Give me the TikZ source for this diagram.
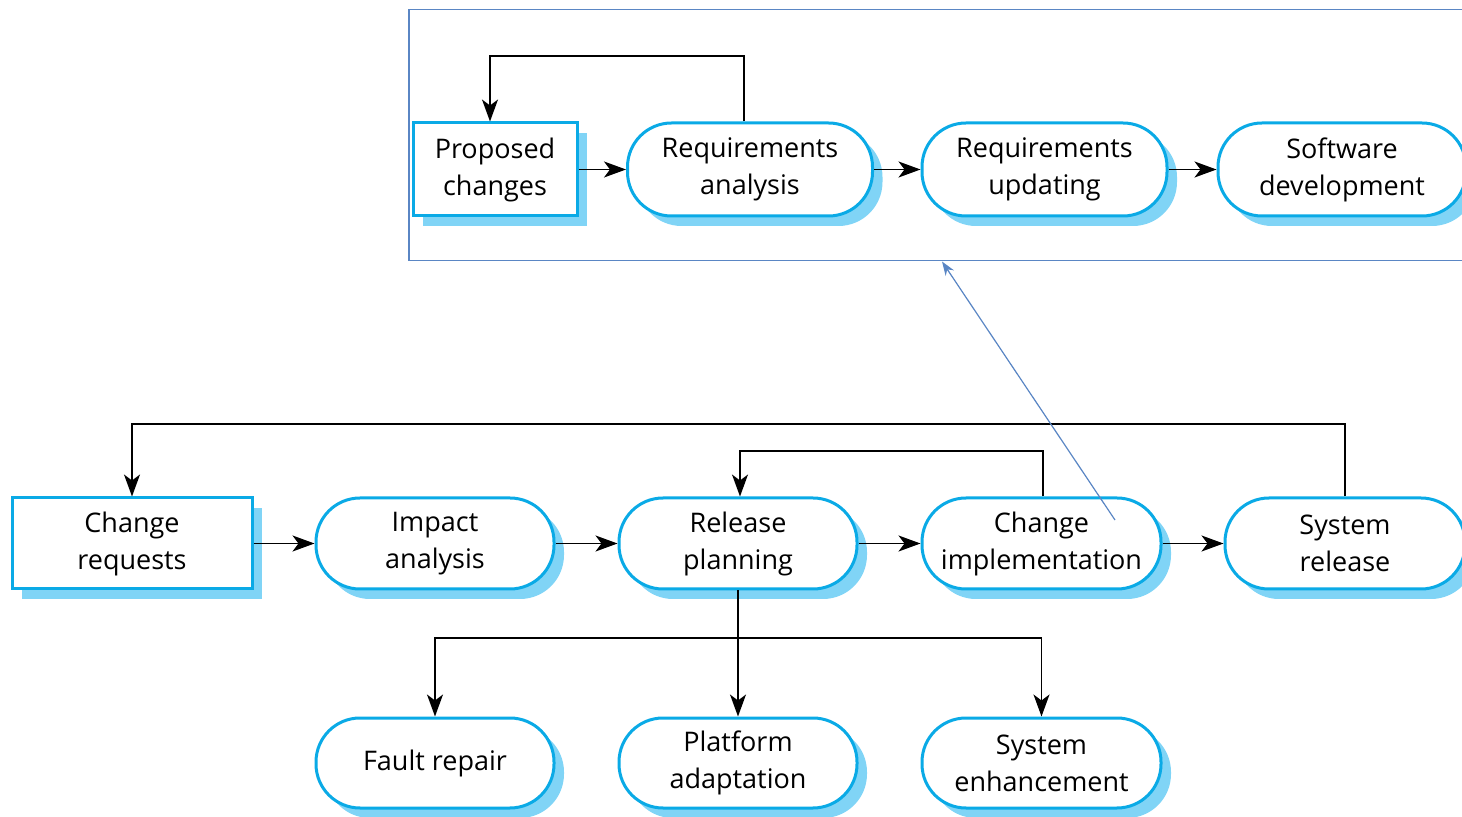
\documentclass[tikz,border=0pt]{standalone}
\usepackage{fontspec}
\setmainfont{Open Sans}
\usetikzlibrary{arrows.meta,shadows,calc}
\definecolor{bord}{HTML}{0AAAE6}
\definecolor{shad}{HTML}{80D4F6}
\definecolor{frame}{HTML}{5A86C4}
\begin{document}
\begin{tikzpicture}[x=0.5pt,y=-0.5pt,
  base/.style={draw=bord, line width=1.5pt, fill=white, align=center, inner sep=0pt,
    font=\fontsize{13.5}{18.5}\selectfont,
    drop shadow={shadow xshift=5pt, shadow yshift=-5pt, fill=shad, opacity=1}},
  rectbox/.style={base, rectangle},
  roundbox/.style={base, rounded corners=22pt},
  arr/.style={line width=0.75pt, -{Stealth[length=11pt,width=8pt,inset=3pt]}},
  plain/.style={line width=0.75pt},
  bluearr/.style={draw=frame, fill=frame, line width=0.6pt, -{Stealth[length=7pt,width=5pt]}}
]
\useasboundingbox (0,0) rectangle (1462,817);
\clip (0,0) rectangle (1462,817);

% outer frame
\node[draw=frame, line width=0.75pt, minimum width=560pt, minimum height=125.5pt, anchor=north west, inner sep=0pt] (ob) at (408,9) {};

% top row
\node[rectbox, minimum width=82pt, minimum height=46.5pt] (pc) at (495,169.5) {Proposed\\changes};
\node[roundbox, minimum width=122.5pt, minimum height=46.5pt] (ra) at (750,169.5) {Requirements\\analysis};
\node[roundbox, minimum width=122.5pt, minimum height=46.5pt] (ru) at (1044.5,169.5) {Requirements\\updating};
\node[roundbox, minimum width=124pt, minimum height=46.5pt] (sd) at (1342,169.5) {Software\\development};

% middle row
\node[rectbox, minimum width=120pt, minimum height=45.5pt] (cr) at (132,543.5) {Change\\requests};
\node[roundbox, minimum width=119pt, minimum height=45.5pt] (ia) at (435,543.5) {Impact\\analysis};
\node[roundbox, minimum width=119pt, minimum height=45.5pt] (rp) at (738,543.5) {Release\\planning};
\node[roundbox, minimum width=119.5pt, minimum height=45.5pt] (ci) at (1041.5,543.5) {Change\\implementation};
\node[roundbox, minimum width=120pt, minimum height=45.5pt] (sr) at (1345,543.5) {System\\release};

% bottom row
\node[roundbox, minimum width=119pt, minimum height=45pt] (fr) at (435,763) {Fault repair};
\node[roundbox, minimum width=119pt, minimum height=45pt] (pa) at (738,763) {Platform\\adaptation};
\node[roundbox, minimum width=119.5pt, minimum height=45pt] (se) at (1041.5,763) {System\\enhancement};

% top connectors
\draw[arr] (pc.east) -- (ra.west);
\draw[arr] (ra.east) -- (ru.west);
\draw[arr] (ru.east) -- (sd.west);
\coordinate (t1) at (744,56);
\draw[arr] (t1 |- ra.north) -- (t1) -| (pc.north -| 490,0);

% middle connectors
\draw[arr] (cr.east) -- (ia.west);
\draw[arr] (ia.east) -- (rp.west);
\draw[arr] (rp.east) -- (ci.west);
\draw[arr] (ci.east) -- (sr.west);
\coordinate (b1) at (1345,424);
\draw[arr] (sr.north) |- (b1) -| (cr.north);
\coordinate (b2) at (1043,451);
\draw[arr] (b2 |- ci.north) -- (b2) -| (rp.north -| 740,0);

% branches
\coordinate (br) at (738,638);
\draw[plain] (rp.south) -- (br);
\draw[arr] (br) -| (fr.north);
\draw[arr] (br) -| (se.north);
\draw[arr] (rp.south) -- (pa.north);

% link to frame
\coordinate (bs) at (1115,520);
\draw[bluearr] (bs) -- (ob.south -| 942,0);
\end{tikzpicture}
\end{document}
